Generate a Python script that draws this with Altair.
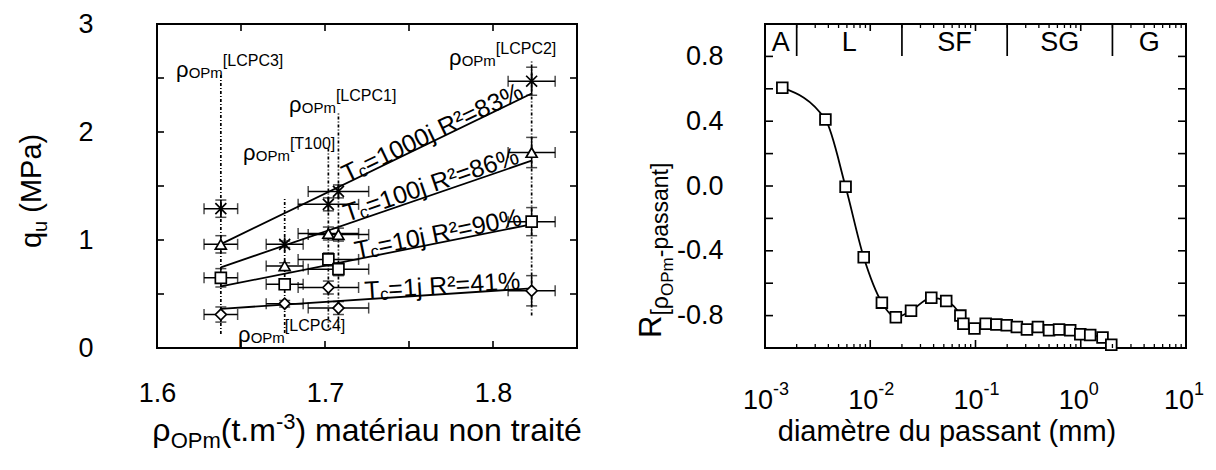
import altair as alt
import pandas as pd

FONT = "Liberation Sans"

# ---------------- left panel data ----------------
rho_names = ["[LCPC3]", "[LCPC4]", "[T100]", "[LCPC1]", "[LCPC2]"]
rho = [1.638, 1.676, 1.702, 1.708, 1.823]
rho_err = [0.010, 0.011, 0.018, 0.018, 0.014]
series = ["1000j", "100j", "10j", "1j"]
qu_1000 = [1.29, 0.96, 1.33, 1.45, 2.47]
qu_100 = [0.96, 0.76, 1.06, 1.05, 1.81]
qu_10 = [0.65, 0.59, 0.82, 0.73, 1.17]
qu_1 = [0.31, 0.41, 0.56, 0.37, 0.53]
err_1000 = [0.08, 0.03, 0.06, 0.06, 0.13]
err_100 = [0.08, 0.03, 0.06, 0.06, 0.14]
err_10 = [0.085, 0.03, 0.06, 0.06, 0.13]
err_1 = [0.07, 0.03, 0.06, 0.06, 0.14]
# vertical reference lines (extent in MPa)
vline_lo = [0.13, 0.14, 0.19, 0.19, 0.30]
vline_hi = [2.54, 1.39, 1.85, 2.19, 2.66]
# label anchors
rho_lab_x = [1.6113, 1.6482, 1.6512, 1.6786, 1.7738]
rho_lab_y = [2.574, 0.12, 1.806, 2.25, 2.685]
tc_x = [1.7125, 1.7125, 1.7185, 1.7238]
tc_y = [1.546, 1.185, 0.843, 0.472]
tc_angle = [334.4, 341.2, 348.5, 356.3]
tc_rest = ["=1000j R²=83%", "=100j R²=86%", "=10j R²=90%", "=1j R²=41%"]
x1_ticks = [1.6, 1.7, 1.8]
y1_ticks = [0, 1, 2, 3]
x1_minor = [1.65, 1.7, 1.75, 1.8]
y1_minor = [0.5, 1.0, 1.5, 2.0, 2.5]

# ---------------- right panel data ----------------
diam = [0.00146, 0.00375, 0.00583, 0.00867, 0.0129, 0.0175, 0.0244, 0.038,
        0.0527, 0.0718, 0.0767, 0.0977, 0.125, 0.158, 0.198, 0.247, 0.308,
        0.392, 0.50, 0.622, 0.794, 0.99, 1.23, 1.61, 1.95]
Rval = [0.607, 0.41, -0.005, -0.44, -0.72, -0.81, -0.77, -0.69, -0.71, -0.80,
        -0.85, -0.88, -0.85, -0.855, -0.86, -0.87, -0.886, -0.87, -0.89, -0.886,
        -0.89, -0.915, -0.92, -0.935, -0.98]
class_bounds = [0.001, 0.002, 0.02, 0.2, 2, 10]
class_names = ["A", "L", "SF", "SG", "G"]
decades = [0.001, 0.01, 0.1, 1, 10]
dec_exp = ["-3", "-2", "-1", "0", "1"]
y2_ticks = [-0.8, -0.4, 0.0, 0.4, 0.8]
y2_minor = [-0.8, -0.6, -0.4, -0.2, 0.0, 0.2, 0.4, 0.6, 0.8]

# ---------------- text metrics helper (Arial / Liberation Sans) ----------------
AW = {' ': 278, '(': 333, ')': 333, '-': 333, '.': 278, '=': 584, '%': 889,
      '[': 278, ']': 278, '²': 333, 'A': 667, 'C': 722, 'F': 611, 'G': 778,
      'L': 556, 'M': 833, 'O': 778, 'P': 667, 'R': 722, 'S': 667, 'T': 611,
      'a': 556, 'c': 500, 'd': 556, 'e': 556, 'è': 556, 'é': 556, 'i': 222,
      'j': 222, 'm': 833, 'n': 556, 'o': 556, 'p': 556, 'q': 556, 'r': 333,
      's': 500, 't': 278, 'u': 556, 'ρ': 577}


def tw(s, size):
    return sum(AW.get(c, 556) for c in s) * size / 1000.0


one = pd.DataFrame({"a": [0]})


def piece(text, x, y, size, dx=0, dy=0, angle=None, align="left"):
    kw = dict(text=text, fontSize=size, font=FONT, color="black", align=align,
              baseline="alphabetic", dx=dx, dy=dy)
    if angle is not None:
        kw["angle"] = angle
    return alt.Chart(one).mark_text(**kw).encode(x=alt.value(x), y=alt.value(y))


W1, W2, H = 420, 421, 324

# ---------------- left chart ----------------
xs1 = alt.Scale(domain=[1.6, 1.85], nice=False, zero=False)
ys1 = alt.Scale(domain=[0, 3], nice=False, zero=False)
xax1 = alt.Axis(values=x1_ticks, format=".1f", ticks=False, tickSize=0, domain=False,
                grid=False, labelFontSize=27, labelFont=FONT, labelColor="black",
                labelPadding=32, labelFlush=False, title=None)
yax1 = alt.Axis(values=y1_ticks, format="d", ticks=False, tickSize=0, domain=False,
                grid=False, labelFontSize=27, labelFont=FONT, labelColor="black",
                labelPadding=64, labelFlush=False, title=None)


def X1(f):
    return alt.X(f, type="quantitative", scale=xs1, axis=xax1)


def Y1(f):
    return alt.Y(f, type="quantitative", scale=ys1, axis=yax1)


rows = []
for s, vals, errs in zip(series, [qu_1000, qu_100, qu_10, qu_1],
                         [err_1000, err_100, err_10, err_1]):
    for i in range(len(rho)):
        rows.append(dict(series=s, rho=rho[i], q=vals[i],
                         xlo=rho[i] - rho_err[i], xhi=rho[i] + rho_err[i],
                         qlo=vals[i] - errs[i], qhi=vals[i] + errs[i]))
df = pd.DataFrame(rows)
df_v = pd.DataFrame({"rho": rho, "lo": vline_lo, "hi": vline_hi})
df_lab = pd.DataFrame({"x": rho_lab_x, "y": rho_lab_y, "name": rho_names})
df_tc = pd.DataFrame({"x": tc_x, "y": tc_y, "ang": tc_angle, "rest": tc_rest})

star = "M-1,-1L1,1M-1,1L1,-1M0,-1.3L0,1.3"
BLK = "black"

vlines = alt.Chart(df_v).mark_rule(color=BLK, strokeWidth=1.7, strokeDash=[3, 2, 1, 2]).encode(
    x=X1("rho"), y=Y1("lo"), y2="hi")
fits = alt.Chart(df).transform_regression(
    "rho", "q", groupby=["series"], extent=[min(rho), max(rho)]
).mark_line(color=BLK, strokeWidth=1.8).encode(x=X1("rho"), y=Y1("q"), detail="series:N")
hbar = alt.Chart(df).mark_rule(color=BLK, strokeWidth=1.5).encode(x=X1("xlo"), x2="xhi", y=Y1("q"))
hcap = alt.Chart(df).transform_fold(["xlo", "xhi"], as_=["k", "xv"]).mark_tick(
    orient="vertical", size=11, thickness=1.5, color=BLK).encode(x=X1("xv:Q"), y=Y1("q"))
vbar = alt.Chart(df).mark_rule(color=BLK, strokeWidth=1.5).encode(x=X1("rho"), y=Y1("qlo"), y2="qhi")
vcap = alt.Chart(df).transform_fold(["qlo", "qhi"], as_=["k", "yv"]).mark_tick(
    orient="horizontal", size=11, thickness=1.5, color=BLK).encode(x=X1("rho"), y=Y1("yv:Q"))
pts = alt.Chart(df).mark_point(size=120, filled=True, fill="white", stroke=BLK,
                               strokeWidth=1.7, opacity=1).encode(
    x=X1("rho"), y=Y1("q"),
    shape=alt.Shape("series:N", scale=alt.Scale(domain=series,
                                                range=[star, "triangle-up", "square", "diamond"]),
                    legend=None))

lab_rho = alt.Chart(df_lab).mark_text(text="ρ", align="left", fontSize=22, font=FONT,
                                      color=BLK).encode(x=X1("x"), y=Y1("y"))
lab_opm = alt.Chart(df_lab).mark_text(text="OPm", align="left", fontSize=15, font=FONT,
                                      color=BLK, dx=tw("ρ", 22), dy=3).encode(x=X1("x"), y=Y1("y"))
lab_br = alt.Chart(df_lab).mark_text(align="left", fontSize=16, font=FONT, color=BLK,
                                     dx=tw("ρ", 22) + tw("OPm", 15), dy=-9).encode(
    x=X1("x"), y=Y1("y"), text="name:N")

ang = alt.Angle("ang:Q", scale=None)
TCUP = -6
tc_T = alt.Chart(df_tc).mark_text(text="T", align="left", fontSize=25, font=FONT,
                                  color=BLK, dy=TCUP).encode(x=X1("x"), y=Y1("y"), angle=ang)
tc_c = alt.Chart(df_tc).mark_text(text="c", align="left", fontSize=17, font=FONT, color=BLK,
                                  dx=tw("T", 25), dy=TCUP + 5).encode(x=X1("x"), y=Y1("y"), angle=ang)
tc_r = alt.Chart(df_tc).mark_text(align="left", fontSize=25, font=FONT, color=BLK,
                                  dx=tw("T", 25) + tw("c", 17), dy=TCUP).encode(
    x=X1("x"), y=Y1("y"), angle=ang, text="rest:N")

dxt = pd.DataFrame({"t": x1_minor})
dyt = pd.DataFrame({"t": y1_minor})
tick_top = alt.Chart(dxt).mark_rule(color=BLK, strokeWidth=1.6).encode(
    x=X1("t"), y=alt.value(0), y2=alt.value(7))
tick_bot = alt.Chart(dxt).mark_rule(color=BLK, strokeWidth=1.6).encode(
    x=X1("t"), y=alt.value(H), y2=alt.value(H - 7))
tick_l = alt.Chart(dyt).mark_rule(color=BLK, strokeWidth=1.6).encode(
    y=Y1("t"), x=alt.value(0), x2=alt.value(7))
tick_r = alt.Chart(dyt).mark_rule(color=BLK, strokeWidth=1.6).encode(
    y=Y1("t"), x=alt.value(W1), x2=alt.value(W1 - 7))

anchor = alt.Chart(one).mark_rule(opacity=0, strokeWidth=1).encode(
    x=alt.value(-148), x2=alt.value(-148), y=alt.value(-15), y2=alt.value(0))

# left x title: ρOPm(t.m-3) matériau non traité
F1, S1 = 32, 22
parts = [("ρ", F1, 0, 0), ("OPm", S1, 7, 0), ("(t.m", F1, 0, 0), ("-3", S1, -12, 0),
         (")", F1, 0, 0), ("matériau non traité", F1, 0, tw(" ", F1))]
total = sum(tw(t, s) + g for t, s, _, g in parts)
xt_layers = []
cx = W1 / 2 - total / 2
for t, s, d, g in parts:
    cx += g
    xt_layers.append(piece(t, cx, H + 93, s, dy=d))
    cx += tw(t, s)

# left y title: qu (MPa)  (rotated)
yt_layers = []
off = 0
for t, s, d, g in [("q", 29, 0, 0), ("u", 20, 6, 0), ("(MPa)", 29, 0, tw(" ", 29))]:
    off += g
    yt_layers.append(piece(t, -116, 224, s, dx=off, dy=d, angle=270))
    off += tw(t, s)

left = alt.layer(vlines, fits, hbar, hcap, vbar, vcap, pts, lab_rho, lab_opm, lab_br,
                 tc_T, tc_c, tc_r, tick_top, tick_bot, tick_l, tick_r, anchor,
                 *xt_layers, *yt_layers).properties(width=W1, height=H)

# ---------------- right chart ----------------
xs2 = alt.Scale(type="log", domain=[0.001, 10], nice=False)
ys2 = alt.Scale(domain=[-1, 1], nice=False, zero=False)
yax2 = alt.Axis(values=y2_ticks, ticks=False, tickSize=0, domain=False, grid=False,
                labelFontSize=27, labelFont=FONT, labelColor="black", labelPadding=42,
                labelFlush=False, title=None,
                labelExpr="datum.value < 0 ? '-' + format(-datum.value, '.1f') : format(datum.value, '.1f')")


def X2(f):
    return alt.X(f, type="quantitative", scale=xs2, axis=None)


def Y2(f):
    return alt.Y(f, type="quantitative", scale=ys2, axis=yax2)


df_r = pd.DataFrame({"d": diam, "r": Rval})
curve = alt.Chart(df_r).mark_line(interpolate="monotone", color=BLK, strokeWidth=1.8).encode(
    x=X2("d"), y=Y2("r"))
sq = alt.Chart(df_r).mark_point(shape="square", size=115, filled=True, fill="white",
                                stroke=BLK, strokeWidth=1.8, opacity=1).encode(
    x=X2("d"), y=Y2("r"))

minor = pd.DataFrame({"t": [k * 10.0 ** e for e in range(-3, 1) for k in range(2, 10)]})
major = pd.DataFrame({"t": [0.01, 0.1, 1.0]})
yminor = pd.DataFrame({"t": y2_minor})
r_ticks = [
    alt.Chart(minor).mark_rule(color=BLK, strokeWidth=1.3).encode(
        x=X2("t"), y=alt.value(H), y2=alt.value(H - 4)),
    alt.Chart(minor).mark_rule(color=BLK, strokeWidth=1.3).encode(
        x=X2("t"), y=alt.value(0), y2=alt.value(4)),
    alt.Chart(major).mark_rule(color=BLK, strokeWidth=1.6).encode(
        x=X2("t"), y=alt.value(H), y2=alt.value(H - 8)),
    alt.Chart(major).mark_rule(color=BLK, strokeWidth=1.6).encode(
        x=X2("t"), y=alt.value(0), y2=alt.value(7)),
    alt.Chart(yminor).mark_rule(color=BLK, strokeWidth=1.6).encode(
        y=Y2("t"), x=alt.value(0), x2=alt.value(8)),
    alt.Chart(yminor).mark_rule(color=BLK, strokeWidth=1.6).encode(
        y=Y2("t"), x=alt.value(W2), x2=alt.value(W2 - 8)),
]

df_cls = pd.DataFrame({
    "mid": [(class_bounds[i] * class_bounds[i + 1]) ** 0.5 for i in range(len(class_names))],
    "name": class_names})
df_sep = pd.DataFrame({"b": class_bounds[1:-1]})
seps = alt.Chart(df_sep).mark_rule(color=BLK, strokeWidth=1.7).encode(
    x=X2("b"), y=alt.value(0), y2=alt.value(32))
cls = alt.Chart(df_cls).mark_text(fontSize=27, font=FONT, color=BLK, baseline="middle",
                                  align="center").encode(x=X2("mid"), y=alt.value(19),
                                                         text="name:N")

df_dec = pd.DataFrame({"d": decades, "e": dec_exp})
dec10 = alt.Chart(df_dec).mark_text(text="10", fontSize=27, font=FONT, color=BLK,
                                    align="right", dx=8).encode(x=X2("d"), y=alt.value(H + 53))
decE = alt.Chart(df_dec).mark_text(fontSize=18, font=FONT, color=BLK, align="left",
                                   dx=8, dy=-11).encode(x=X2("d"), y=alt.value(H + 53),
                                                        text="e:N")

xt2 = piece("diamètre du passant (mm)", 182, H + 93, 29, align="center")

yt2_layers = []
off = 0
for t, s, d in [("R", 31, 0), ("[ρ", 23, 7), ("OPm", 17, 12), ("-passant]", 23, 7)]:
    yt2_layers.append(piece(t, -104, 314, s, dx=off, dy=d, angle=270))
    off += tw(t, s)

right = alt.layer(curve, sq, *r_ticks, seps, cls, dec10, decE, xt2,
                  *yt2_layers).properties(width=W2, height=H)

chart = alt.hconcat(left, right, spacing=188, bounds="flush").configure_view(
    stroke="black", strokeWidth=2
).properties(padding={"left": 0, "top": 0, "right": 0, "bottom": 0})

chart.save("out.html", embed_options={"renderer": "svg", "actions": False})
